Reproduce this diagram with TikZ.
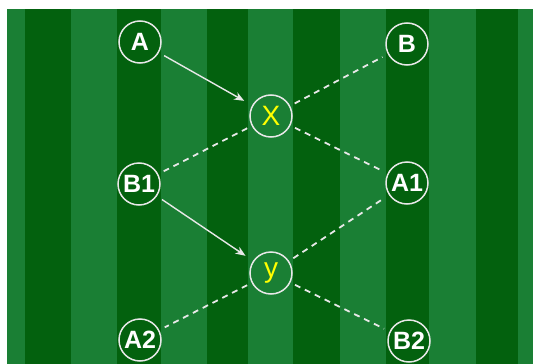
\documentclass[tikz,border=0pt]{standalone}
\usepackage{fontspec}
\setmainfont{Liberation Sans}
\usetikzlibrary{arrows.meta}
\definecolor{lightg}{RGB}{26,127,52}
\definecolor{darkg}{RGB}{3,97,14}
\definecolor{ring}{RGB}{232,232,232}
\definecolor{yel}{RGB}{255,255,0}
\tikzset{
  player/.style={circle, draw=ring, line width=1.5pt, minimum size=42pt, inner sep=0pt,
    text=white, font=\bfseries\fontsize{25}{25}\selectfont},
  varnode/.style={player, text=yel, font=\fontsize{28}{28}\selectfont},
  pass/.style={draw=ring, line width=1.4pt, -{Stealth[length=10pt,width=8pt,inset=3pt]},
    shorten <=6pt, shorten >=9pt},
  link/.style={draw=ring, line width=1.8pt, dash pattern=on 6pt off 5pt,
    shorten <=5pt, shorten >=6pt},
}
\begin{document}
\begin{tikzpicture}[x=1pt,y=-1pt]
\useasboundingbox (0,0) rectangle (533,364);
\fill[white] (0,0) rectangle (533,364);
\fill[lightg] (7,9) rectangle (533,364);
\foreach \a/\b in {25/71,117/161,207/248,293/340,386/429,476/518}
  \fill[darkg] (\a,9) rectangle (\b,364);
\node[player] (A) at (140,42) {A};
\node[player] (B) at (407,44) {B};
\node[varnode] (X) at (271,116) {X};
\node[player] (B1) at (139,184) {B1};
\node[player] (A1) at (407,183) {A1};
\node[varnode] (Y) at (271,273) {y};
\node[player] (A2) at (140,340) {A2};
\node[player] (B2) at (409,341) {B2};
\draw[pass] (A) -- (X);
\draw[pass] (B1) -- (Y);
\draw[link] (X) -- (B);
\draw[link] (X) -- (B1);
\draw[link] (X) -- (A1);
\draw[link] (Y) -- (A1);
\draw[link] (Y) -- (A2);
\draw[link] (Y) -- (B2);
\end{tikzpicture}
\end{document}
